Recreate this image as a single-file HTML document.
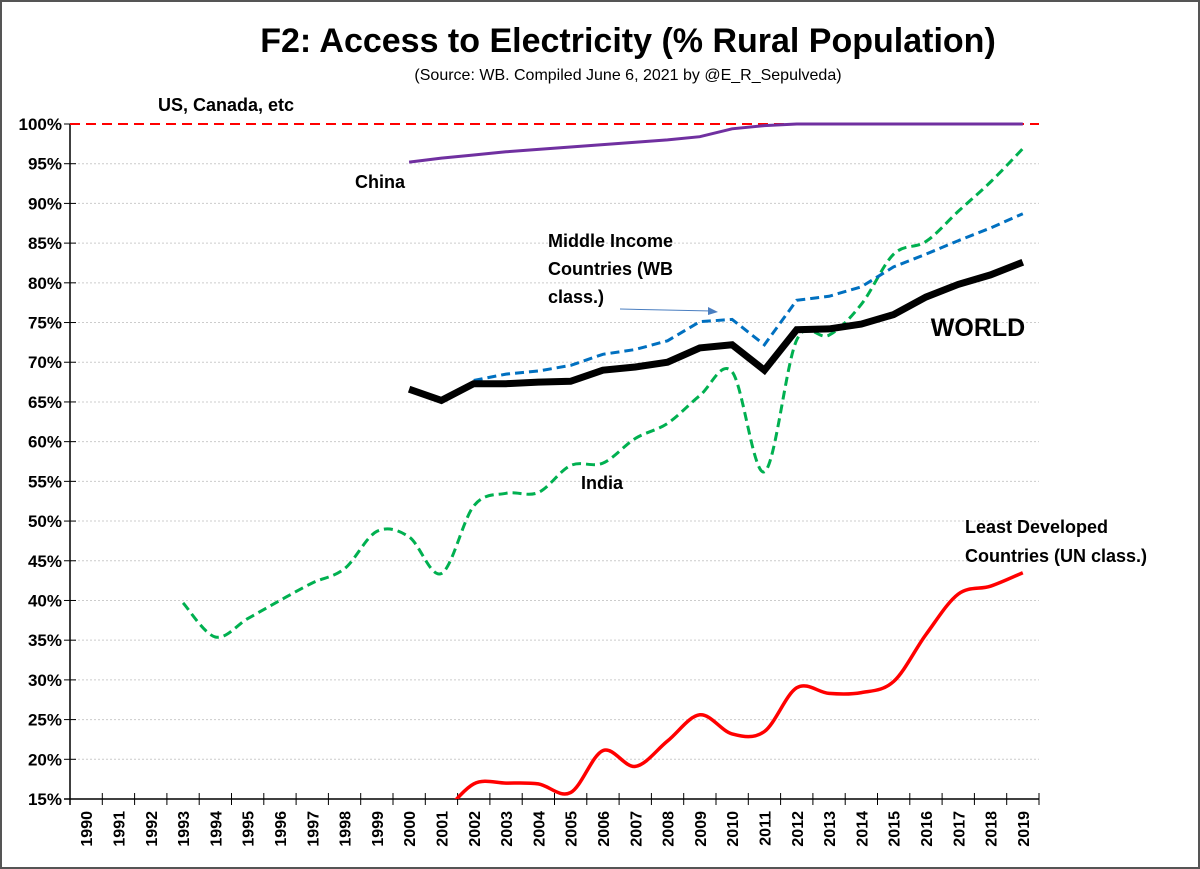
<!DOCTYPE html>
<html><head><meta charset="utf-8"><style>
body{margin:0;background:#fff;}
#wrap{position:relative;width:1200px;height:869px;overflow:hidden;background:#fff;}
svg text{font-family:"Liberation Sans",sans-serif;font-weight:bold;}
</style></head><body>
<div id="wrap">
<svg id="chart" width="1200" height="869">
<rect x="1" y="1" width="1198" height="867" fill="none" stroke="#555" stroke-width="2"/>
<text x="628" y="52" font-size="34" text-anchor="middle" fill="#000">F2: Access to Electricity (% Rural Population)</text>
<text x="628" y="80" font-size="16" text-anchor="middle" fill="#000" style="font-weight:normal">(Source: WB. Compiled June 6, 2021 by @E_R_Sepulveda)</text>
<g id="grid"></g><g id="axes"></g>
<defs><clipPath id="plotclip"><rect x="70" y="118" width="970" height="681"/></clipPath></defs>
<g id="series" clip-path="url(#plotclip)"></g>
<text x="226" y="111" font-size="18" text-anchor="middle">US, Canada, etc</text>
<text x="380" y="188" font-size="18" text-anchor="middle">China</text>
<text x="548" y="247" font-size="18"><tspan x="548">Middle Income</tspan><tspan x="548" dy="28">Countries (WB</tspan><tspan x="548" dy="28">class.)</tspan></text>
<line x1="620" y1="309" x2="712" y2="311" stroke="#4a7ec0" stroke-width="1"/>
<polygon points="718,312 708,307 708,315" fill="#4a7ec0"/>
<text x="978" y="336" font-size="25" text-anchor="middle">WORLD</text>
<text x="602" y="489" font-size="18" text-anchor="middle">India</text>
<text x="965" y="533" font-size="18"><tspan x="965">Least Developed</tspan><tspan x="965" dy="29">Countries (UN class.)</tspan></text>
</svg>
</div>
<script>
const years=[];for(let y=1990;y<=2019;y++)years.push(y);
const yTicks=[15,20,25,30,35,40,45,50,55,60,65,70,75,80,85,90,95,100];
const chinaYears=[2000,2001,2002,2003,2004,2005,2006,2007,2008,2009,2010,2011,2012,2013,2014,2015,2016,2017,2018,2019];
const chinaVals=[95.2,95.7,96.1,96.5,96.8,97.1,97.4,97.7,98.0,98.4,99.4,99.8,100,100,100,100,100,100,100,100];
const worldYears=chinaYears;
const worldVals=[66.6,65.2,67.3,67.3,67.5,67.6,69.0,69.4,70.0,71.8,72.2,69.0,74.1,74.2,74.8,76.0,78.2,79.8,81.0,82.6];
const midYears=[2002,2003,2004,2005,2006,2007,2008,2009,2010,2011,2012,2013,2014,2015,2016,2017,2018,2019];
const midVals=[67.7,68.5,68.9,69.6,71.0,71.6,72.7,75.1,75.4,72.2,77.8,78.3,79.5,82.0,83.6,85.3,86.9,88.7];
const indiaYears=[1993,1994,1995,1996,1997,1998,1999,2000,2001,2002,2003,2004,2005,2006,2007,2008,2009,2010,2011,2012,2013,2014,2015,2016,2017,2018,2019];
const indiaVals=[39.7,35.4,37.7,40.0,42.2,44.0,48.7,48.0,43.4,51.9,53.5,53.6,57.0,57.3,60.4,62.3,65.8,68.8,56.2,72.8,73.4,77.3,83.6,85.2,89.0,92.7,96.9];
const ldcYears=[2001,2002,2003,2004,2005,2006,2007,2008,2009,2010,2011,2012,2013,2014,2015,2016,2017,2018,2019];
const ldcVals=[12.8,16.9,17.0,16.9,15.8,21.1,19.1,22.3,25.6,23.2,23.5,29.0,28.3,28.4,29.8,35.7,40.8,41.8,43.5];
const usVal=100;

const X0=70,STEP=32.3,Y100=124,Y15=799;
const xs=y=>X0+STEP*(y-1990+0.5);
const ys=v=>Y100+(100-v)*(Y15-Y100)/85;
const NS="http://www.w3.org/2000/svg";
function mk(tag,attrs,parent){const e=document.createElementNS(NS,tag);for(const k in attrs)e.setAttribute(k,attrs[k]);parent.appendChild(e);return e;}
const grid=document.getElementById('grid'),axes=document.getElementById('axes'),ser=document.getElementById('series');
yTicks.forEach(t=>{
 if(t>15&&t<100){const l=mk('line',{x1:X0,x2:X0+STEP*30,y1:ys(t),y2:ys(t),stroke:'#ccc','stroke-dasharray':'2,2'},grid);
 
 }
 const tk=mk('line',{x1:X0-6,x2:X0+6,y1:ys(t),y2:ys(t),stroke:'#000'},axes);
 
 
 const tx=mk('text',{x:X0-8,y:ys(t)+6,'font-size':17,'text-anchor':'end'},axes);tx.textContent=t+'%';
 
 
});
const ya=mk('line',{x1:X0,x2:X0,y1:Y100,y2:Y15+6,stroke:'#000','stroke-width':1.5},axes);


const xa=mk('line',{x1:X0-6,x2:X0+STEP*30,y1:Y15,y2:Y15,stroke:'#000','stroke-width':1.5},axes);


for(let i=0;i<=30;i++){const tk=mk('line',{x1:X0+STEP*i,x2:X0+STEP*i,y1:Y15-6,y2:Y15+6,stroke:'#000'},axes);
 
 }
years.forEach(y=>{const cx=xs(y)+6,cy=Y15+12;
 const t=mk('text',{x:cx,y:cy,'font-size':16,'text-anchor':'end',transform:`rotate(-90 ${cx} ${cy})`},axes);t.textContent=y;
 
 });
function linePath(yr,vs){return yr.map((y,i)=>(i?'L':'M')+xs(y).toFixed(1)+','+ys(vs[i]).toFixed(1)).join('');}
function smoothPath(yr,vs){const p=yr.map((y,i)=>[xs(y),ys(vs[i])]);let d='M'+p[0][0]+','+p[0][1];
 for(let i=0;i<p.length-1;i++){const p0=p[i-1]||p[i],p1=p[i],p2=p[i+1],p3=p[i+2]||p2;
 const c1=[p1[0]+(p2[0]-p0[0])/6,p1[1]+(p2[1]-p0[1])/6],c2=[p2[0]-(p3[0]-p1[0])/6,p2[1]-(p3[1]-p1[1])/6];
 d+=`C${c1[0].toFixed(1)},${c1[1].toFixed(1)} ${c2[0].toFixed(1)},${c2[1].toFixed(1)} ${p2[0].toFixed(1)},${p2[1].toFixed(1)}`;}return d;}
const us=mk('line',{x1:X0,x2:X0+STEP*30,y1:ys(usVal),y2:ys(usVal),stroke:'#ff0000','stroke-width':2,'stroke-dasharray':'10,6'},ser);


const ch=mk('path',{d:linePath(chinaYears,chinaVals),fill:'none',stroke:'#7030a0','stroke-width':3},ser);


const ind=mk('path',{d:smoothPath(indiaYears,indiaVals),fill:'none',stroke:'#00b050','stroke-width':3,'stroke-dasharray':'9,5'},ser);


const mid=mk('path',{d:linePath(midYears,midVals),fill:'none',stroke:'#0070c0','stroke-width':3,'stroke-dasharray':'9,5'},ser);


const wl=mk('path',{d:linePath(worldYears,worldVals),fill:'none',stroke:'#000','stroke-width':7,'stroke-linejoin':'miter'},ser);


const ld=mk('path',{d:smoothPath(ldcYears,ldcVals),fill:'none',stroke:'#ff0000','stroke-width':3.5},ser);


</script>
</body></html>
